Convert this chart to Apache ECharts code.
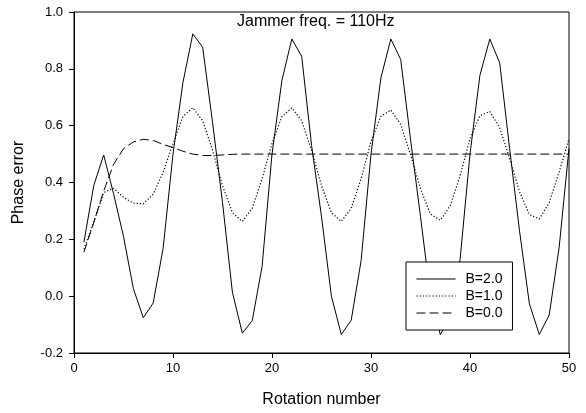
<!DOCTYPE html>
<html>
<head>
<meta charset="utf-8">
<script src="https://cdn.jsdelivr.net/npm/echarts@6/dist/echarts.min.js"></script>
<style>
html,body{margin:0;padding:0;background:#fff;}
#chart{width:586px;height:413px;}
</style>
</head>
<body>
<div id="chart"></div>
<script>
var rotations = [1,2,3,4,5,6,7,8,9,10,11,12,13,14,15,16,17,18,19,20,21,22,23,24,25,26,27,28,29,30,31,32,33,34,35,36,37,38,39,40,41,42,43,44,45,46,47,48,49,50];
var b20 = [0.19,0.39,0.497,0.36,0.21,0.026,-0.076,-0.024,0.168,0.50,
           0.751,0.923,0.876,0.61,0.33,0.014,-0.13,-0.087,0.105,0.50,
           0.759,0.905,0.844,0.53,0.28,0.0,-0.135,-0.085,0.125,0.50,
           0.768,0.905,0.833,0.55,0.28,0.0,-0.135,-0.075,0.13,0.50,
           0.777,0.905,0.821,0.52,0.23,-0.027,-0.135,-0.066,0.17,0.52];
var b10 = [0.165,0.26,0.365,0.38,0.348,0.327,0.325,0.359,0.436,0.536,
           0.632,0.663,0.617,0.513,0.389,0.294,0.263,0.309,0.413,0.537,
           0.632,0.663,0.617,0.513,0.389,0.294,0.263,0.309,0.413,0.544,
           0.633,0.655,0.604,0.498,0.378,0.289,0.267,0.318,0.424,0.554,
           0.635,0.650,0.593,0.485,0.368,0.287,0.272,0.329,0.437,0.554];
var b00 = [0.155,0.26,0.37,0.464,0.519,0.543,0.552,0.548,0.534,0.523,
           0.51,0.50,0.495,0.495,0.497,0.499,0.5,0.5,0.5,0.5,
           0.5,0.5,0.5,0.5,0.5,0.5,0.5,0.5,0.5,0.5,
           0.5,0.5,0.5,0.5,0.5,0.5,0.5,0.5,0.5,0.5,
           0.5,0.5,0.5,0.5,0.5,0.5,0.5,0.5,0.5,0.5];
var seriesNames = ['B=2.0','B=1.0','B=0.0'];
var xTicks = [0,10,20,30,40,50];
var yTicks = [-0.2,0.0,0.2,0.4,0.6,0.8,1.0];
var titleText = 'Jammer freq. = 110Hz';

function pairs(ys){ return rotations.map(function(x,i){ return [x, ys[i]]; }); }

var font = 'Liberation Sans, Arial, sans-serif';
var chart = echarts.init(document.getElementById('chart'), null, {renderer:'canvas'});
chart.setOption({
  animation:false,
  backgroundColor:'#fff',
  title:{
    text:titleText, left:237, top:14, padding:0,
    textStyle:{fontFamily:font, fontSize:16, fontWeight:'normal', color:'#000'}
  },
  grid:{left:74, right:17, top:12, bottom:59, show:true, borderColor:'#000', borderWidth:1, backgroundColor:'transparent'},
  legend:{
    orient:'vertical', left:406, top:262, padding:[10,10,10,10],
    itemWidth:39, itemHeight:14, itemGap:3,
    borderColor:'#000', borderWidth:1, backgroundColor:'#fff',
    data:seriesNames,
    itemStyle:{opacity:0},
    lineStyle:{width:1},
    textStyle:{fontFamily:font, fontSize:14, color:'#000', padding:[0,0,0,5]}
  },
  xAxis:{
    type:'value', min:xTicks[0], max:xTicks[xTicks.length-1], interval:10,
    name:'Rotation number', nameLocation:'middle', nameGap:39,
    nameTextStyle:{fontFamily:font, fontSize:16, color:'#000'},
    axisLine:{onZero:false, lineStyle:{color:'#000', width:1}},
    axisTick:{show:true, length:5, lineStyle:{color:'#000'}},
    axisLabel:{fontFamily:font, fontSize:13, color:'#000', margin:9},
    splitLine:{show:false}
  },
  yAxis:{
    type:'value', min:yTicks[0], max:yTicks[yTicks.length-1], interval:0.2,
    name:'Phase error', nameLocation:'middle', nameGap:47, nameRotate:90,
    nameTextStyle:{fontFamily:font, fontSize:16, color:'#000'},
    axisLine:{show:true, onZero:false, lineStyle:{color:'#000', width:1}},
    axisTick:{show:true, length:5, lineStyle:{color:'#000'}},
    axisLabel:{fontFamily:font, fontSize:13, color:'#000', margin:11,
      formatter:function(v){ return (Math.round(v*10)/10).toFixed(1); }},
    splitLine:{show:false}
  },
  series:[
    {name:seriesNames[0], type:'line', data:pairs(b20), symbol:'none', showSymbol:false,
     itemStyle:{color:'#000'}, lineStyle:{color:'#000', width:1, type:'solid'}},
    {name:seriesNames[1], type:'line', data:pairs(b10), symbol:'none', showSymbol:false,
     itemStyle:{color:'#000'}, lineStyle:{color:'#000', width:1.2, type:[1.2,2]}},
    {name:seriesNames[2], type:'line', data:pairs(b00), symbol:'none', showSymbol:false,
     itemStyle:{color:'#000'}, lineStyle:{color:'#000', width:1, type:[9,4]}}
  ]
});
</script>
</body>
</html>
